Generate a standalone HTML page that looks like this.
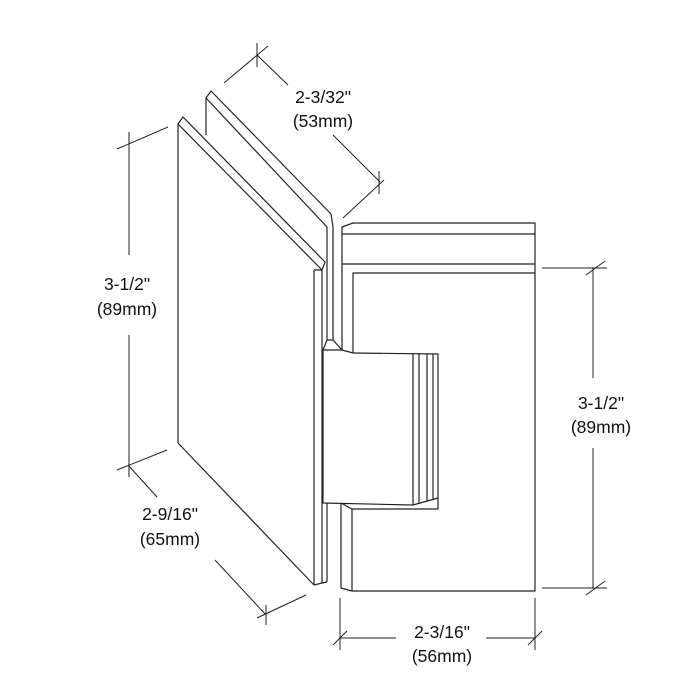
<!DOCTYPE html>
<html><head><style>
html,body{margin:0;padding:0;background:#fff;}
svg{display:block}
text{font-family:"Liberation Sans",Arial,sans-serif;font-size:17.5px;fill:#111;text-anchor:middle}
</style></head><body>
<svg width="700" height="700" viewBox="0 0 700 700" xmlns="http://www.w3.org/2000/svg">
<g fill="none" stroke="#222" stroke-width="1.2" stroke-linejoin="round">
<polyline points="206,135 206,98 211,91 331,214 333,227 333,340"/>
<line x1="206" y1="98" x2="327" y2="227"/>
<line x1="327" y1="227" x2="327" y2="340"/>
<polyline points="178,443 178,124 183,117 325,262 322,270 314,270"/>
<line x1="178" y1="124" x2="322" y2="270"/>
<line x1="314" y1="270" x2="314" y2="585"/>
<line x1="322" y1="270" x2="322" y2="583"/>
<line x1="178" y1="443" x2="314" y2="585"/>
<line x1="314" y1="585" x2="322" y2="583"/>
<polyline points="323,350 327,340 333,340 342,350"/>
<line x1="323" y1="350" x2="342" y2="350"/>
<polyline points="342,350 342,227 353,223 535,223 535,591 352,591 341,588 341,503"/>
<line x1="342" y1="234" x2="535" y2="234"/>
<line x1="342" y1="264" x2="535" y2="264"/>
<polyline points="353,353 353,273 535,273"/>
<line x1="342" y1="350" x2="353" y2="353"/>
<polyline points="323,350 323,503 413,505 438,498 438,354 353,353"/>
<line x1="413" y1="354" x2="413" y2="505"/>
<line x1="419" y1="354" x2="419" y2="503"/>
<line x1="427" y1="354" x2="427" y2="501"/>
<line x1="433" y1="354" x2="433" y2="499"/>
<polyline points="438,498 438,509 352,509 341,503"/>
<line x1="352" y1="509" x2="352" y2="591"/>
<line x1="327" y1="503" x2="327" y2="582"/>
<line x1="322" y1="583" x2="327" y2="582"/>
</g>
<g fill="none" stroke="#222" stroke-width="1">
<line x1="224" y1="83" x2="268" y2="46"/>
<line x1="257" y1="43" x2="257" y2="67"/>
<line x1="257" y1="55" x2="288" y2="85"/>
<line x1="333" y1="135" x2="380" y2="182"/>
<line x1="343" y1="218" x2="384" y2="180"/>
<line x1="379" y1="171" x2="379" y2="194"/>
<line x1="129" y1="132" x2="129" y2="255"/>
<line x1="129" y1="335" x2="129" y2="477"/>
<line x1="117" y1="149" x2="168" y2="127"/>
<line x1="117" y1="470" x2="167" y2="450"/>
<line x1="128" y1="465" x2="157" y2="497"/>
<line x1="215" y1="560" x2="266" y2="615"/>
<line x1="257" y1="618" x2="306" y2="595"/>
<line x1="266" y1="605" x2="266" y2="625"/>
<line x1="593" y1="268" x2="593" y2="378"/>
<line x1="593" y1="448" x2="593" y2="588"/>
<line x1="542" y1="268" x2="607" y2="268"/>
<line x1="542" y1="588" x2="607" y2="588"/>
<line x1="586" y1="275" x2="605" y2="261"/>
<line x1="586" y1="595" x2="605" y2="581"/>
<line x1="340" y1="598" x2="340" y2="650"/>
<line x1="535" y1="598" x2="535" y2="650"/>
<line x1="340" y1="638" x2="396" y2="638"/>
<line x1="486" y1="638" x2="535" y2="638"/>
<line x1="333" y1="645" x2="347" y2="631"/>
<line x1="528" y1="645" x2="542" y2="631"/>
</g>
<text x="323" y="103">2-3/32"</text>
<text x="323" y="127">(53mm)</text>
<text x="127" y="290">3-1/2"</text>
<text x="127" y="315">(89mm)</text>
<text x="170" y="520">2-9/16"</text>
<text x="170" y="545">(65mm)</text>
<text x="601" y="409">3-1/2"</text>
<text x="601" y="433">(89mm)</text>
<text x="442" y="638">2-3/16"</text>
<text x="442" y="662">(56mm)</text>
</svg>
</body></html>
